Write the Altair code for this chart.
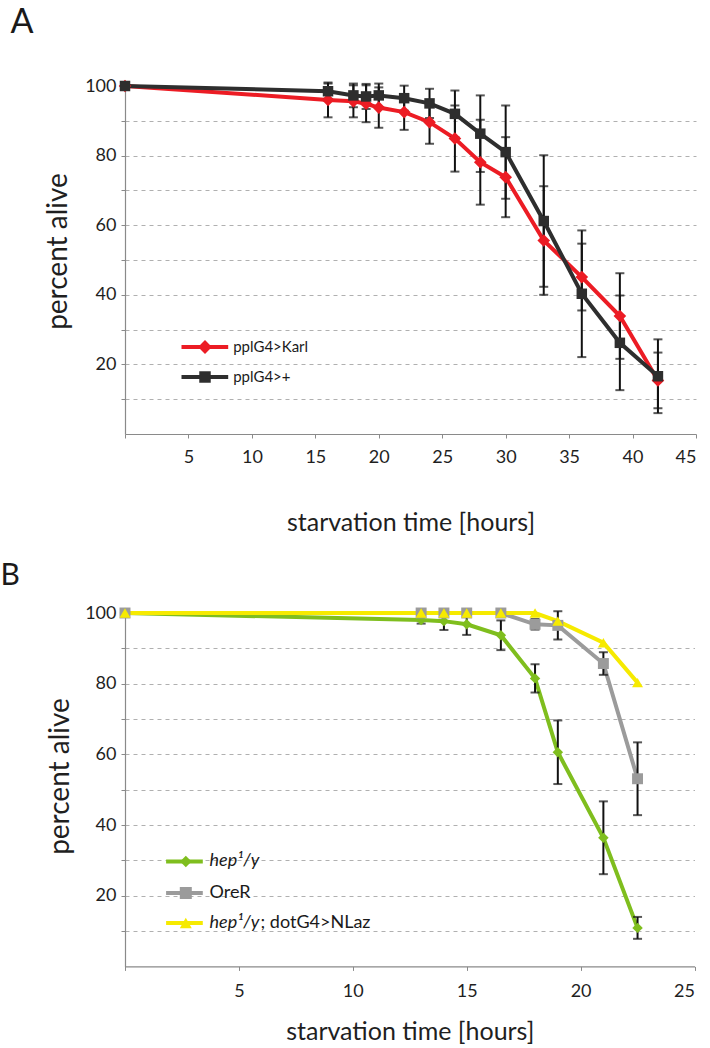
import altair as alt
import pandas as pd

FONT = "Lato"

# ---------------- Panel A data ----------------
a_hours = [0, 16, 18, 19, 20, 22, 24, 26, 28, 30, 33, 36, 39, 42]
a_karl = [100, 96, 95.6, 94.9, 93.8, 92.5, 89.6, 84.9, 78.1, 73.8, 55.6, 45.1, 33.9, 15.4]
a_karl_err = [0, 5, 4.6, 5.3, 5.8, 5.1, 6.2, 9.5, 12.2, 11.5, 15.6, 9.6, 12.3, 8]
a_ctrl = [100, 98.5, 97.3, 97, 97.3, 96.5, 95, 92, 86.3, 81, 61.2, 40.3, 26.2, 16.6]
a_ctrl_err = [0, 2.2, 3.4, 3.6, 3.4, 3.6, 4.2, 6.7, 11, 13.4, 18.9, 18.2, 13.6, 10.6]
a_names = ["pplG4>Karl", "pplG4>+"]

# ---------------- Panel B data ----------------
b_hours = [0, 13, 14, 15, 16.5, 18, 19, 21, 22.5]
b_hep = [100, 98, 97.7, 96.8, 93.7, 81.5, 60.6, 36.4, 10.9]
b_hep_err = [0, 1, 2.5, 3, 4.2, 4, 9, 10.3, 3.1]
b_orer = [100, 100, 100, 100, 100, 96.8, 96.5, 85.7, 53.1]
b_orer_err = [0, 0, 0, 0, 0, 1.5, 4, 3.2, 10.3]
b_nlaz = [100, 100, 100, 100, 100, 100, 97.7, 91.6, 80.3]
b_nlaz_err = [0, 0, 0, 0, 0, 0, 0, 0, 0]
b_names = ["hep\u00b9/y", "OreR", "hep\u00b9/y; dotG4>NLaz"]


def long_df(hours, vals, errs, name):
    return pd.DataFrame({
        "hours": hours,
        "value": vals,
        "lo": [v - e for v, e in zip(vals, errs)],
        "hi": [v + e for v, e in zip(vals, errs)],
        "err": errs,
        "series": name,
    })


def one():
    return alt.Data(values=[{"k": 1}])


def build_panel(series, xmax, width, height, y_title_pad, y_title_y, x_title_pad,
                x_label_pad, panel_label, panel_label_size, panel_label_x, panel_label_y,
                legend_rows, legend_font, leg_x1, leg_x2, leg_mx, leg_tx):
    xscale = alt.Scale(domain=[0, xmax], nice=False, zero=False)
    yscale = alt.Scale(domain=[0, 100], nice=False)
    xaxis = alt.Axis(
        values=list(range(0, xmax + 1, 5)),
        labelExpr="datum.value == 0 ? '' : datum.label",
        title="starvation time [hours]",
        grid=False,
        titlePadding=x_title_pad,
        labelPadding=x_label_pad,
    )
    yaxis = alt.Axis(
        values=[10, 20, 30, 40, 50, 60, 70, 80, 90, 100],
        labelExpr="datum.value % 20 == 0 ? datum.label : ''",
        title="percent alive",
        grid=True,
        gridDash=[4, 4],
        gridColor="#b0b0b0",
        gridOpacity={"condition": {"test": "datum.value >= 100", "value": 0}, "value": 1},
        titlePadding=y_title_pad,
        titleY=y_title_y,
        labelPadding=5,
    )

    def X(field="hours"):
        return alt.X(f"{field}:Q", scale=xscale, axis=xaxis)

    def Y(field):
        return alt.Y(f"{field}:Q", scale=yscale, axis=yaxis)

    layers = []
    # lines
    for df, color, shape, size in series:
        layers.append(alt.Chart(df).mark_line(color=color, strokeWidth=4).encode(x=X(), y=Y("value")))
    # error bars
    for df, color, shape, size in series:
        e = df[df["err"] > 0]
        if len(e) == 0:
            continue
        layers.append(alt.Chart(e).mark_rule(color="#111111", strokeWidth=2).encode(
            x=X(), y=Y("lo"), y2="hi:Q"))
        layers.append(alt.Chart(e).mark_tick(color="#111111", orient="horizontal", size=9, thickness=2).encode(
            x=X(), y=Y("lo")))
        layers.append(alt.Chart(e).mark_tick(color="#111111", orient="horizontal", size=9, thickness=2).encode(
            x=X(), y=Y("hi")))
    # points
    for df, color, shape, size in series:
        layers.append(alt.Chart(df).mark_point(filled=True, shape=shape, size=size, color=color, opacity=1).encode(
            x=X(), y=Y("value")))

    # custom legend
    for parts, color, shape, size, ly in legend_rows:
        layers.append(alt.Chart(one()).mark_rule(color=color, strokeWidth=4).encode(
            x=alt.value(leg_x1), x2=alt.value(leg_x2), y=alt.value(ly)))
        layers.append(alt.Chart(one()).mark_point(filled=True, shape=shape, size=size * 1.2, color=color, opacity=1).encode(
            x=alt.value(leg_mx), y=alt.value(ly)))
        for text, italic, dx in parts:
            layers.append(alt.Chart(one()).mark_text(
                text=text, font=FONT, fontSize=legend_font, align="left", baseline="middle",
                fontStyle="italic" if italic else "normal", color="#1a1a1a").encode(
                x=alt.value(leg_tx + dx), y=alt.value(ly)))

    # panel letter
    layers.append(alt.Chart(one()).mark_text(
        text=panel_label, font=FONT, fontSize=panel_label_size, align="left", baseline="alphabetic",
        color="#1a1a1a").encode(x=alt.value(panel_label_x), y=alt.value(panel_label_y)))

    return alt.layer(*layers).properties(width=width, height=height)


RED, BLACK = "#ec1c24", "#2e2e2e"
GREEN, GRAY, YELLOW = "#7fbe1e", "#9b9b9b", "#f6ea00"

panel_a = build_panel(
    series=[
        (long_df(a_hours, a_karl, a_karl_err, a_names[0]), RED, "diamond", 160),
        (long_df(a_hours, a_ctrl, a_ctrl_err, a_names[1]), BLACK, "square", 110),
    ],
    xmax=45, width=571, height=348,
    y_title_pad=12, y_title_y=165, x_title_pad=44, x_label_pad=10,
    panel_label="A", panel_label_size=34, panel_label_x=-114.5, panel_label_y=-52.7,
    legend_rows=[
        ([(a_names[0], False, 0)], RED, "diamond", 160, 261),
        ([(a_names[1], False, 0)], BLACK, "square", 110, 291),
    ],
    legend_font=15, leg_x1=56.5, leg_x2=103.2, leg_mx=80, leg_tx=108.2,
)

panel_b = build_panel(
    series=[
        (long_df(b_hours, b_hep, b_hep_err, b_names[0]), GREEN, "diamond", 110),
        (long_df(b_hours, b_orer, b_orer_err, b_names[1]), GRAY, "square", 120),
        (long_df(b_hours, b_nlaz, b_nlaz_err, b_names[2]), YELLOW, "triangle-up", 120),
    ],
    xmax=25, width=569.5, height=353.4,
    y_title_pad=10, y_title_y=163, x_title_pad=19, x_label_pad=12,
    panel_label="B", panel_label_size=30, panel_label_x=-124.5, panel_label_y=-28.3,
    legend_rows=[
        ([("hep\u00b9/y", True, 0)], GREEN, "diamond", 110, 248.4),
        ([("OreR", False, 0)], GRAY, "square", 120, 280),
        ([("hep\u00b9/y", True, 0), ("; dotG4>NLaz", False, 51)], YELLOW, "triangle-up", 120, 310),
    ],
    legend_font=18, leg_x1=41.1, leg_x2=77.8, leg_mx=60.8, leg_tx=84.5,
)

chart = alt.vconcat(panel_a, panel_b, spacing=25).properties(
    padding={"left": 0, "top": 6, "right": 5, "bottom": 0},
    background="white",
).configure_view(stroke=None).configure_axis(
    labelFont=FONT, titleFont=FONT, labelFontSize=18, titleFontSize=25,
    labelColor="#1f1f1f", titleColor="#1f1f1f", titleFontWeight="normal",
    domainColor="#8a8a8a", tickColor="#8a8a8a", tickSize=4, domainWidth=1.2,
).configure_axisY(titleFontSize=28)

chart.save("out.html", embed_options={"renderer": "svg", "actions": False})
